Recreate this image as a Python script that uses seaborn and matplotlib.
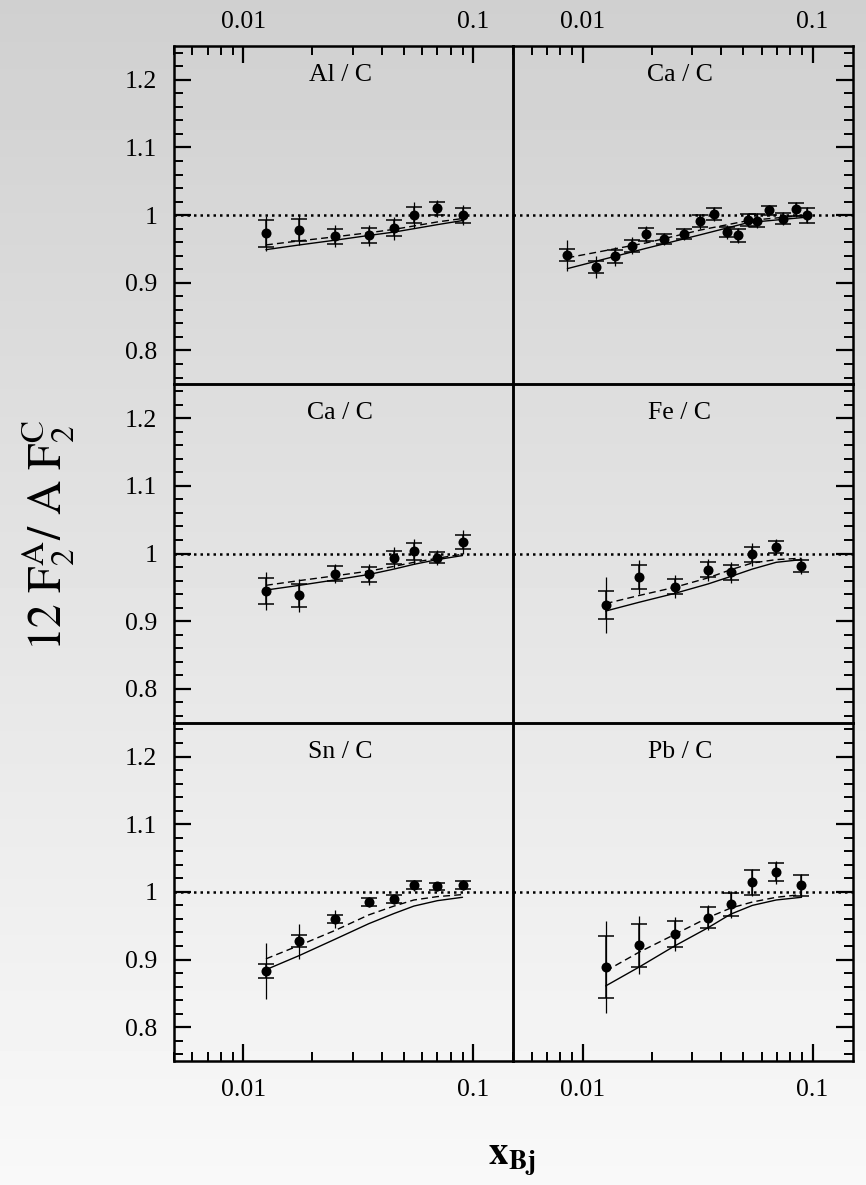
import numpy as np
import pandas as pd
import matplotlib
matplotlib.use("Agg")
import matplotlib.pyplot as plt
import matplotlib.ticker as mticker
import seaborn as sns

# ---------------- data ----------------
panel_titles = ["Al / C", "Ca / C", "Ca / C", "Fe / C", "Sn / C", "Pb / C"]

al_x = [0.01256, 0.01757, 0.0251, 0.0352, 0.0453, 0.0553, 0.070, 0.090]
al_y = [0.973, 0.978, 0.969, 0.970, 0.981, 1.000, 1.010, 1.000]
al_stat = [0.020, 0.016, 0.011, 0.011, 0.012, 0.012, 0.010, 0.011]
al_tot = [0.026, 0.022, 0.016, 0.016, 0.017, 0.019, 0.013, 0.015]
al_cx = al_x
al_solid = [0.949, 0.956, 0.963, 0.970, 0.975, 0.980, 0.986, 0.992]
al_dashed = [0.956, 0.962, 0.968, 0.974, 0.979, 0.984, 0.990, 0.995]

ca1_x = [0.00858, 0.01138, 0.01387, 0.0164, 0.01888, 0.0226, 0.0275, 0.0325, 0.0374,
         0.0425, 0.0474, 0.0525, 0.0574, 0.0645, 0.0746, 0.0848, 0.0942]
ca1_y = [0.941, 0.923, 0.939, 0.955, 0.972, 0.965, 0.972, 0.991, 1.002,
         0.975, 0.970, 0.993, 0.992, 1.007, 0.995, 1.009, 1.000]
ca1_stat = [0.009, 0.009, 0.010, 0.009, 0.0096, 0.007, 0.007, 0.009, 0.009,
            0.008, 0.0096, 0.009, 0.010, 0.007, 0.008, 0.0096, 0.011]
ca1_tot = [0.023, 0.016, 0.014, 0.012, 0.012, 0.009, 0.009, 0.011, 0.010,
           0.010, 0.011, 0.010, 0.011, 0.008, 0.009, 0.011, 0.012]
ca1_cx = [0.00858, 0.01888, 0.0325, 0.0525, 0.0942]
ca1_solid = [0.921, 0.951, 0.971, 0.989, 0.997]
ca1_dashed = [0.937, 0.959, 0.978, 0.992, 1.000]

ca2_x = [0.01256, 0.01757, 0.0251, 0.0352, 0.0453, 0.0553, 0.070, 0.090]
ca2_y = [0.945, 0.938, 0.970, 0.969, 0.994, 1.003, 0.994, 1.017]
ca2_stat = [0.019, 0.017, 0.011, 0.011, 0.010, 0.012, 0.0075, 0.010]
ca2_tot = [0.028, 0.025, 0.014, 0.015, 0.016, 0.019, 0.011, 0.018]
ca2_cx = ca2_x
ca2_solid = [0.946, 0.953, 0.961, 0.969, 0.977, 0.984, 0.991, 0.997]
ca2_dashed = [0.953, 0.960, 0.967, 0.974, 0.981, 0.987, 0.993, 0.999]

fe_x = [0.01259, 0.01762, 0.0251, 0.0351, 0.0440, 0.0547, 0.0695, 0.0895]
fe_y = [0.924, 0.965, 0.951, 0.976, 0.972, 0.999, 1.010, 0.981]
fe_stat = [0.021, 0.018, 0.011, 0.011, 0.011, 0.011, 0.009, 0.009]
fe_tot = [0.041, 0.025, 0.017, 0.016, 0.015, 0.017, 0.012, 0.012]
fe_cx = fe_x
fe_solid = [0.915, 0.928, 0.941, 0.955, 0.966, 0.977, 0.987, 0.991]
fe_dashed = [0.926, 0.938, 0.950, 0.964, 0.976, 0.986, 0.991, 0.993]

sn_x = [0.01256, 0.01757, 0.0251, 0.0352, 0.0453, 0.0553, 0.070, 0.090]
sn_y = [0.883, 0.927, 0.960, 0.985, 0.989, 1.010, 1.008, 1.010]
sn_stat = [0.011, 0.009, 0.006, 0.006, 0.006, 0.0064, 0.005, 0.0054]
sn_tot = [0.041, 0.026, 0.013, 0.008, 0.007, 0.008, 0.006, 0.007]
sn_cx = sn_x
sn_solid = [0.885, 0.906, 0.930, 0.953, 0.968, 0.979, 0.987, 0.992]
sn_dashed = [0.901, 0.921, 0.943, 0.966, 0.979, 0.988, 0.993, 0.996]

pb_x = [0.01259, 0.01762, 0.0251, 0.0351, 0.0440, 0.0547, 0.0695, 0.0895]
pb_y = [0.889, 0.921, 0.938, 0.962, 0.982, 1.014, 1.029, 1.010]
pb_stat = [0.046, 0.0315, 0.019, 0.016, 0.017, 0.018, 0.013, 0.0155]
pb_tot = [0.068, 0.043, 0.025, 0.019, 0.020, 0.020, 0.017, 0.017]
pb_cx = pb_x
pb_solid = [0.861, 0.889, 0.920, 0.947, 0.967, 0.980, 0.988, 0.992]
pb_dashed = [0.883, 0.911, 0.937, 0.962, 0.976, 0.985, 0.992, 0.996]

y_ticks = [0.8, 0.9, 1.0, 1.1, 1.2]
x_ticks = [0.01, 0.1]

panels = [
    (al_x, al_y, al_stat, al_tot, al_cx, al_solid, al_dashed),
    (ca1_x, ca1_y, ca1_stat, ca1_tot, ca1_cx, ca1_solid, ca1_dashed),
    (ca2_x, ca2_y, ca2_stat, ca2_tot, ca2_cx, ca2_solid, ca2_dashed),
    (fe_x, fe_y, fe_stat, fe_tot, fe_cx, fe_solid, fe_dashed),
    (sn_x, sn_y, sn_stat, sn_tot, sn_cx, sn_solid, sn_dashed),
    (pb_x, pb_y, pb_stat, pb_tot, pb_cx, pb_solid, pb_dashed),
]

# ---------------- style ----------------
sns.set_theme(style="ticks")
plt.rcParams["font.family"] = ["Liberation Serif", "DejaVu Serif"]
plt.rcParams["mathtext.fontset"] = "stix"
plt.rcParams["text.color"] = "black"
plt.rcParams["axes.labelcolor"] = "black"
plt.rcParams["xtick.color"] = "black"
plt.rcParams["ytick.color"] = "black"

fig = plt.figure(figsize=(8.66, 11.85), dpi=100)

# gradient background
bg = fig.add_axes([0, 0, 1, 1], zorder=-10)
grad = np.linspace(0.815, 0.975, 256).reshape(-1, 1)
bg.imshow(grad, cmap="gray", vmin=0, vmax=1, aspect="auto", extent=[0, 1, 0, 1])
bg.set_axis_off()

gs = fig.add_gridspec(3, 2, left=0.2009, right=0.985, top=0.9612, bottom=0.1046,
                      hspace=0, wspace=0)

for i, (px, py, pst, ptot, cx, csol, cdash) in enumerate(panels):
    r, c = divmod(i, 2)
    ax = fig.add_subplot(gs[r, c])
    ax.set_facecolor("none")
    ax.set_xscale("log")
    ax.set_xlim(0.005, 0.15)
    ax.set_ylim(0.75, 1.25)

    ax.axhline(1.0, color="black", ls=(0, (1, 1.6)), lw=1.8, zorder=1)

    curves = pd.DataFrame({"x": cx, "solid": csol, "dashed": cdash})
    sns.lineplot(data=curves, x="x", y="solid", ax=ax, color="black", lw=1.0,
                 estimator=None, sort=False)
    sns.lineplot(data=curves, x="x", y="dashed", ax=ax, color="black", lw=1.0,
                 estimator=None, sort=False, dashes=False, linestyle=(0, (5, 3)))

    ax.errorbar(px, py, yerr=ptot, fmt="none", ecolor="black", elinewidth=0.9,
                capsize=0, zorder=3)
    ax.errorbar(px, py, yerr=pst, fmt="none", ecolor="black", elinewidth=1.1,
                capsize=6, capthick=1.1, zorder=3)
    pts = pd.DataFrame({"x": px, "y": py})
    sns.scatterplot(data=pts, x="x", y="y", ax=ax, color="black", s=52,
                    edgecolor="black", linewidth=0, zorder=4)

    ax.text(0.49, 0.914, panel_titles[i], transform=ax.transAxes, ha="center",
            va="center", fontsize=18.5, color="black")

    ax.set_xlabel("")
    ax.set_ylabel("")

    for sp in ax.spines.values():
        sp.set_linewidth(1.8)
        sp.set_color("black")
        sp.set_visible(True)

    ax.xaxis.set_major_locator(mticker.FixedLocator(x_ticks))
    ax.xaxis.set_minor_locator(mticker.LogLocator(base=10, subs=np.arange(2, 10)))
    ax.xaxis.set_major_formatter(mticker.FuncFormatter(lambda v, p: "%g" % v))
    ax.xaxis.set_minor_formatter(mticker.NullFormatter())
    ax.yaxis.set_major_locator(mticker.FixedLocator(y_ticks))
    ax.yaxis.set_minor_locator(mticker.MultipleLocator(0.02))
    ax.yaxis.set_major_formatter(mticker.FuncFormatter(lambda v, p: "%g" % round(v, 2)))

    ax.tick_params(which="both", direction="in", colors="black",
                   labelcolor="black", labelsize=18.5)
    ax.tick_params(which="major", length=12, width=1.6)
    ax.tick_params(which="minor", length=6.5, width=1.4)

    # x ticks
    ax.tick_params(axis="x", which="both", top=(r == 0), bottom=(r == 2),
                   labeltop=(r == 0), labelbottom=(r == 2),
                   pad=(9 if r == 0 else 13))
    # y ticks
    ax.tick_params(axis="y", which="both", left=(c == 0), right=(c == 1),
                   labelleft=(c == 0), labelright=False, pad=12)

fig.text(0.055, 0.548, r"$\mathrm{12\ F_2^A/\ A\ F_2^C}$", rotation=90,
         ha="center", va="center", fontsize=34)
fig.text(0.591, 0.021, r"$\mathbf{x_{Bj}}$", ha="center", va="center", fontsize=28)

fig.savefig("out.png", dpi=100)
